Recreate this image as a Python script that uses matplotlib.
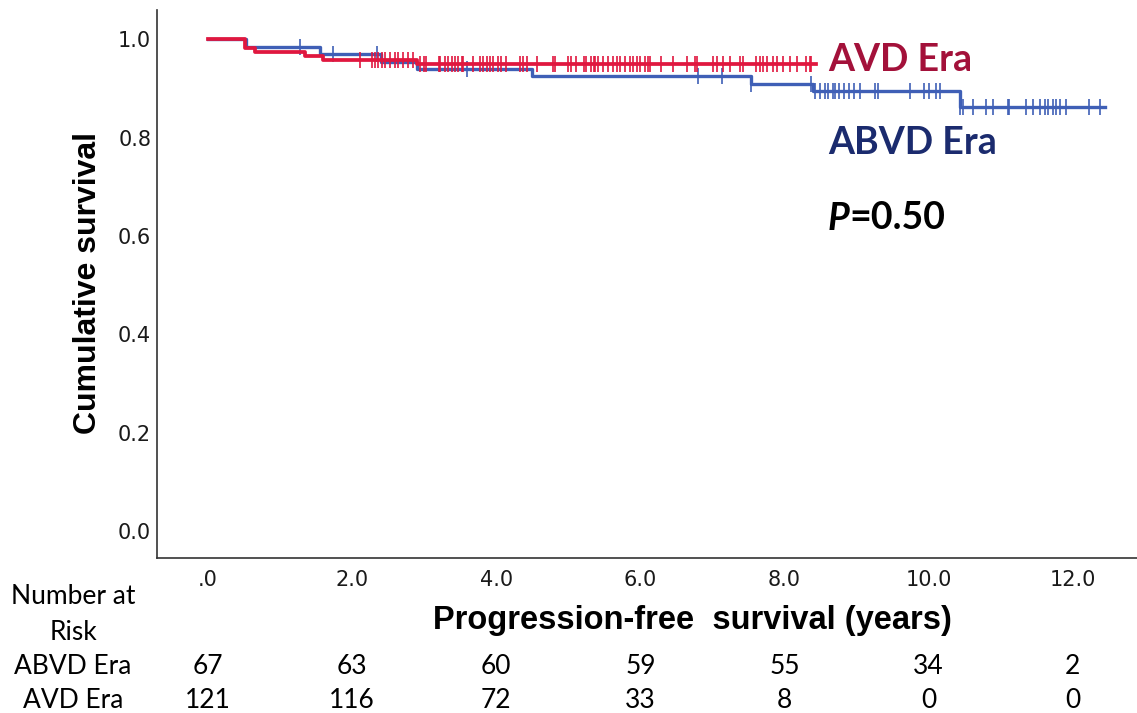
import numpy as np
import matplotlib
matplotlib.use('Agg')
import matplotlib.pyplot as plt

# Kaplan-Meier steps (years, survival)
avd_times = [0.0, 0.51, 0.65, 1.35, 1.60, 2.90, 8.44]
avd_surv = [1.0, 0.983, 0.975, 0.967, 0.959, 0.950, 0.950]
abvd_times = [0.0, 0.53, 1.55, 2.40, 2.90, 4.49, 7.54, 8.39, 10.43, 12.44]
abvd_surv = [1.0, 0.985, 0.970, 0.955, 0.940, 0.925, 0.910, 0.895, 0.862, 0.862]

# censored observations (years)
avd_censor = [2.11, 2.27, 2.32, 2.36, 2.41, 2.45, 2.52, 2.59, 2.64, 2.71, 2.78, 2.85,
              2.94, 2.99, 3.03, 3.20, 3.22, 3.29, 3.33, 3.38, 3.43, 3.47, 3.52, 3.54,
              3.68, 3.77, 3.82, 3.87, 3.91, 3.96, 4.03, 4.07, 4.14, 4.33, 4.37, 4.42,
              4.56, 4.79, 4.81, 5.00, 5.04, 5.11, 5.21, 5.25, 5.32, 5.35, 5.37, 5.41,
              5.48, 5.55, 5.62, 5.67, 5.72, 5.78, 5.85, 5.90, 5.95, 5.99, 6.06, 6.11,
              6.13, 6.29, 6.45, 6.64, 6.76, 6.78, 7.01, 7.06, 7.15, 7.24, 7.38, 7.43,
              7.61, 7.66, 7.70, 7.75, 7.84, 7.89, 7.98, 8.07, 8.17, 8.30, 8.35, 8.37]
abvd_censor = [1.28, 1.73, 2.35, 3.59, 6.80, 7.13, 7.54, 8.37, 8.42, 8.49, 8.56, 8.60,
               8.67, 8.70, 8.76, 8.83, 8.90, 8.97, 9.04, 9.25, 9.30, 9.74, 9.94, 10.01,
               10.10, 10.15, 10.43, 10.48, 10.61, 10.80, 10.89, 11.10, 11.12, 11.35,
               11.45, 11.54, 11.61, 11.65, 11.72, 11.77, 11.82, 11.91, 12.23, 12.37]

x_ticks = [0, 2, 4, 6, 8, 10, 12]
x_tick_labels = ['.0', '2.0', '4.0', '6.0', '8.0', '10.0', '12.0']
y_ticks = [0.0, 0.2, 0.4, 0.6, 0.8, 1.0]
risk_abvd = [67, 63, 60, 59, 55, 34, 2]
risk_avd = [121, 116, 72, 33, 8, 0, 0]

RED = '#e0173f'
BLUE = '#3f5fb6'
RED_TXT = '#a3113a'
BLUE_TXT = '#1b2b6e'

W, H = 1137, 713


def px(x, y):
    return x / W, 1 - y / H


def surv_at(times, surv, t):
    i = np.searchsorted(times, t, side='right') - 1
    return np.array(surv)[i]


fig = plt.figure(figsize=(W / 100, H / 100), dpi=100)
ax = fig.add_axes([156.7 / W, 1 - 558 / H, 1 - 156.7 / W, (558 - 10) / H])

ax.step(abvd_times, abvd_surv, where='post', color=BLUE, lw=2.4, zorder=2)
ax.step(avd_times, avd_surv, where='post', color=RED, lw=2.7, zorder=3)
ax.plot(abvd_censor, surv_at(abvd_times, abvd_surv, abvd_censor), ls='none',
        marker='|', ms=12, mew=1.4, color=BLUE, alpha=0.85, zorder=2)
ax.plot(avd_censor, surv_at(avd_times, avd_surv, avd_censor), ls='none',
        marker='|', ms=12, mew=1.4, color=RED, alpha=0.85, zorder=3)

ax.set_xlim(-0.712, 12.89)
ax.set_ylim(-0.055, 1.060)
ax.set_xticks(x_ticks)
ax.set_xticklabels(x_tick_labels)
ax.set_yticks(y_ticks)
ax.set_yticklabels(['%.1f' % v for v in y_ticks])
ax.tick_params(length=0, labelsize=15, colors='#1a1a1a')
ax.tick_params(axis='x', pad=9)
ax.tick_params(axis='y', pad=4)
for s in ['top', 'right']:
    ax.spines[s].set_visible(False)
for s in ['left', 'bottom']:
    ax.spines[s].set_color('#333333')
    ax.spines[s].set_linewidth(1.2)

fig.text(*px(88, 283), 'Cumulative survival', rotation=90, ha='center', va='center',
         family='Liberation Sans', weight='bold', fontsize=23)
fig.text(*px(692, 620), 'Progression-free  survival (years)', ha='center', va='center',
         family='Liberation Sans', weight='bold', fontsize=23.5)

fig.text(*px(828, 60), 'AVD Era', ha='left', va='center', family='Lato', weight='bold',
         fontsize=27, color=RED_TXT)
fig.text(*px(828, 143), 'ABVD Era', ha='left', va='center', family='Lato', weight='bold',
         fontsize=27, color=BLUE_TXT)
fig.text(*px(828, 218), 'P', ha='left', va='center', family='Lato', weight='bold',
         style='italic', fontsize=27, color='black')
fig.text(*px(849, 218), '=0.50', ha='left', va='center', family='Lato', weight='bold',
         fontsize=27, color='black')

# number at risk table
fig.text(*px(73, 596), 'Number at', ha='center', va='center', family='Lato', fontsize=19)
fig.text(*px(73, 632), 'Risk', ha='center', va='center', family='Lato', fontsize=19)
fig.text(*px(73, 666), 'ABVD Era', ha='center', va='center', family='Lato', fontsize=19)
fig.text(*px(73, 701), 'AVD Era', ha='center', va='center', family='Lato', fontsize=19)
for t, a, b in zip(x_ticks, risk_abvd, risk_avd):
    ax.annotate(str(a), xy=(t, 0), xycoords=('data', 'figure fraction'),
                xytext=(0, 1 - 666 / H), textcoords=('offset points', 'figure fraction'),
                ha='center', va='center', family='Lato', fontsize=19)
    ax.annotate(str(b), xy=(t, 0), xycoords=('data', 'figure fraction'),
                xytext=(0, 1 - 701 / H), textcoords=('offset points', 'figure fraction'),
                ha='center', va='center', family='Lato', fontsize=19)

fig.savefig('out.png', dpi=100)
